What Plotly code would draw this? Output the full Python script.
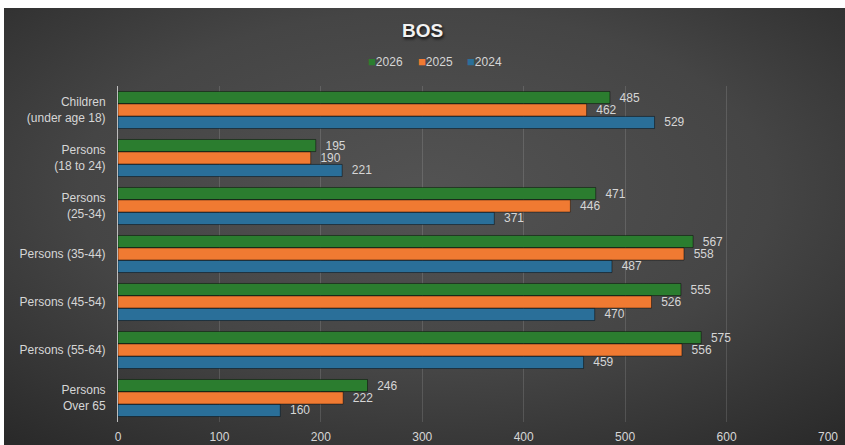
import base64
import plotly.graph_objects as go

# Age groups (top to bottom) and counts per year
categories = [
    "Children<br>(under age 18)",
    "Persons<br>(18 to 24)",
    "Persons<br>(25-34)",
    "Persons (35-44)",
    "Persons (45-54)",
    "Persons (55-64)",
    "Persons<br>Over 65",
]
values_2026 = [485, 195, 471, 567, 555, 575, 246]
values_2025 = [462, 190, 446, 558, 526, 556, 222]
values_2024 = [529, 221, 371, 487, 470, 459, 160]
x_ticks = [0, 100, 200, 300, 400, 500, 600, 700]

series = [
    ("2026", values_2026, "#2b7d2f"),
    ("2025", values_2025, "#f07a32"),
    ("2024", values_2024, "#2a6f99"),
]

W, H = 845, 445
L, R, T, B = 118, 17, 86, 23
pw, ph = W - L - R, H - T - B

font_family = "Liberation Sans, Arial, sans-serif"
label_color = "#d6d6d6"

fig = go.Figure()
for name, vals, color in series:
    fig.add_trace(go.Bar(
        y=categories,
        x=vals,
        name=name,
        orientation="h",
        marker=dict(color=color, line=dict(color="rgba(0,0,0,0.45)", width=1)),
        text=[str(v) for v in vals],
        texttemplate="  %{text}",
        textposition="outside",
        constraintext="none",
        cliponaxis=False,
        textfont=dict(color=label_color, size=12, family=font_family),
        showlegend=False,
    ))

# Dark radial-gradient backdrop drawn as an SVG image
svg = (
    '<svg xmlns="http://www.w3.org/2000/svg" width="841" height="437" '
    'viewBox="0 0 841 437" preserveAspectRatio="none">'
    '<defs><radialGradient id="g" cx="0.5" cy="0.42" r="0.75">'
    '<stop offset="0" stop-color="#535353"/>'
    '<stop offset="0.55" stop-color="#454545"/>'
    '<stop offset="1" stop-color="#2a2a2a"/>'
    '</radialGradient></defs>'
    '<rect width="841" height="437" fill="url(#g)"/></svg>'
)
src = "data:image/svg+xml;base64," + base64.b64encode(svg.encode()).decode()

img_left, img_top = 4, 8
fig.add_layout_image(dict(
    source=src,
    xref="paper", yref="paper",
    x=(img_left - L) / pw,
    y=(H - B - img_top) / ph,
    sizex=(W - img_left) / pw,
    sizey=(H - img_top) / ph,
    xanchor="left", yanchor="top",
    sizing="stretch",
    layer="below",
))

# Compact legend: small coloured square followed by the year
legend_y = (H - B - 61) / ph
legend_x = {"2026": 366, "2025": 416, "2024": 465}
for name, vals, color in series:
    fig.add_annotation(
        xref="paper", yref="paper",
        x=(legend_x[name] - L) / pw, y=legend_y,
        xanchor="left", yanchor="middle",
        showarrow=False,
        text=f'<span style="color:{color};font-size:13px">■</span>{name}',
        font=dict(size=12, color=label_color, family=font_family),
    )

fig.update_layout(
    width=W, height=H,
    margin=dict(l=L, r=R, t=T, b=B, pad=0, autoexpand=False),
    paper_bgcolor="white",
    plot_bgcolor="rgba(0,0,0,0)",
    barmode="group",
    bargap=0.22,
    bargroupgap=0.03,
    font=dict(family=font_family, color=label_color, size=12),
    title=dict(
        text="BOS",
        x=0.5, xanchor="center",
        y=1 - 30 / H, yanchor="middle", yref="container",
        font=dict(family="Liberation Sans, Arial, sans-serif", size=19,
                  color="#f2f2f2", weight="bold",
                  shadow="1px 2px 3px rgba(0,0,0,0.8)"),
    ),
    showlegend=False,
)

fig.update_xaxes(
    range=[0, 700],
    tickvals=x_ticks,
    showgrid=True,
    gridcolor="rgba(255,255,255,0.13)",
    gridwidth=1,
    zeroline=False,
    showline=False,
    ticks="",
    ticklabelstandoff=6,
    automargin=False,
    tickfont=dict(size=12, color=label_color),
    fixedrange=True,
)
fig.update_yaxes(
    autorange="reversed",
    showgrid=False,
    showline=True,
    linecolor="#bdbdbd",
    linewidth=1,
    ticks="",
    ticklabelstandoff=9,
    automargin=False,
    tickfont=dict(size=12, color=label_color),
    fixedrange=True,
)

fig.write_html("out.html")
